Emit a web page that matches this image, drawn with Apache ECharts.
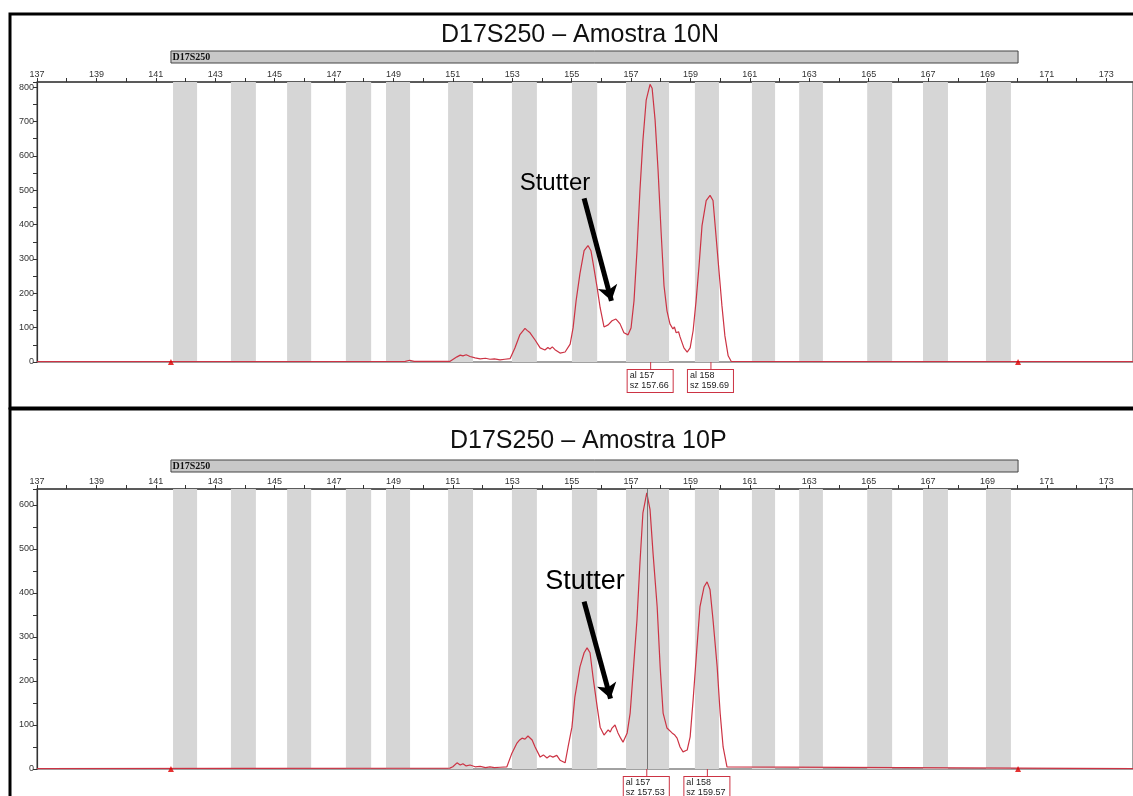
<!DOCTYPE html>
<html>
<head>
<meta charset="utf-8">
<title>D17S250</title>
<script src="https://cdn.jsdelivr.net/npm/echarts@6/dist/echarts.min.js"></script>
<style>
	html, body { margin: 0; padding: 0; background: #fff; }
	#main { width: 1133px; height: 796px; }
</style>
</head>
<body>
<div id="main"></div>
<script>
	'use strict'
	/*----data----*/
	var locus = 'D17S250';
	var titles = ['D17S250 \u2013 Amostra 10N', 'D17S250 \u2013 Amostra 10P'];
	var sizeRange = [137, 173.9];
	var binRange = [141.51, 170.03];
	var bins = [
		[141.58, 142.39], [143.53, 144.37], [145.42, 146.23], [147.40, 148.25], [148.75, 149.56],
		[150.84, 151.68], [152.99, 153.83], [155.01, 155.86], [156.83, 158.28], [159.15, 159.96],
		[161.07, 161.85], [162.66, 163.46], [164.95, 165.79], [166.83, 167.67], [168.95, 169.79]
	];
	var yMax = [815, 636];
	var trace10N = [
		[137, 1], [149.4, 2], [149.55, 5], [149.7, 2], [150.91, 2], [150.97, 6], [151.14, 15], [151.25, 20],
		[151.34, 18], [151.45, 21], [151.58, 16], [151.75, 12], [151.92, 9], [152.1, 11], [152.25, 8],
		[152.4, 9], [152.59, 6], [152.75, 8], [152.93, 10], [153.09, 41], [153.26, 80], [153.43, 98],
		[153.5, 92], [153.6, 85], [153.77, 64], [153.94, 41], [154.1, 35], [154.2, 42], [154.27, 38],
		[154.35, 44], [154.44, 36], [154.61, 26], [154.78, 29], [154.95, 52], [155.05, 100], [155.15, 178],
		[155.28, 257], [155.42, 324], [155.55, 339], [155.65, 324], [155.75, 274], [155.86, 216],
		[155.96, 158], [156.09, 102], [156.23, 108], [156.36, 120], [156.49, 125], [156.56, 118],
		[156.63, 111], [156.76, 85], [156.9, 79], [157.0, 99], [157.1, 178], [157.2, 324], [157.3, 500],
		[157.4, 645], [157.51, 762], [157.64, 808], [157.71, 797], [157.81, 704], [157.91, 558],
		[158.01, 382], [158.11, 222], [158.21, 149], [158.31, 111], [158.41, 96], [158.46, 102],
		[158.52, 85], [158.6, 88], [158.65, 73], [158.78, 41], [158.89, 29], [158.99, 41], [159.09, 91],
		[159.19, 178], [159.29, 280], [159.39, 397], [159.53, 470], [159.66, 485], [159.76, 470],
		[159.86, 368], [159.96, 266], [160.06, 164], [160.16, 76], [160.27, 18], [160.37, 2], [173.9, 1]
	];
	var trace10P = [
		[137, 1], [150.9, 2], [151.0, 5], [151.14, 14], [151.25, 9], [151.34, 12], [151.45, 7], [151.58, 9],
		[151.75, 5], [151.92, 6], [152.1, 3], [152.25, 5], [152.4, 3], [152.59, 4], [152.82, 5],
		[152.99, 36], [153.16, 59], [153.25, 66], [153.33, 70], [153.43, 68], [153.53, 75], [153.67, 66],
		[153.77, 50], [153.94, 27], [154.05, 32], [154.17, 25], [154.27, 30], [154.37, 27], [154.5, 31],
		[154.61, 20], [154.78, 14], [154.88, 50], [155.01, 95], [155.11, 164], [155.28, 232], [155.42, 264],
		[155.52, 275], [155.62, 264], [155.72, 209], [155.86, 141], [155.96, 95], [156.09, 77], [156.23, 89],
		[156.3, 84], [156.36, 93], [156.46, 100], [156.56, 82], [156.65, 70], [156.73, 61], [156.87, 82],
		[156.97, 127], [157.07, 218], [157.2, 339], [157.3, 468], [157.4, 582], [157.53, 627], [157.64, 589],
		[157.74, 491], [157.88, 368], [157.98, 232], [158.08, 127], [158.21, 93], [158.38, 82], [158.46, 78],
		[158.55, 70], [158.65, 50], [158.75, 39], [158.89, 43], [158.99, 73], [159.09, 157], [159.22, 277],
		[159.32, 368], [159.46, 414], [159.56, 425], [159.66, 407], [159.76, 339], [159.9, 232], [160.0, 127],
		[160.1, 50], [160.23, 5], [160.27, 2], [173.9, 1]
	];
	var alleles10N = [['157', 157.66], ['158', 159.69]];
	var alleles10P = [['157', 157.53], ['158', 159.57]];
	// stutter note: text point, arrow start, arrow end
	var stutter10N = [[154.44, 520], [155.42, 476], [156.34, 178]];
	var stutter10P = [[155.45, 425], [155.42, 380], [156.31, 160]];
	var cursor10P = 157.53;

	var traceColor = '#cc3344';
	var font = 'Liberation Sans';

	function plotGrid(top, height) {
		return {
			left: 37, right: 0, top: top, height: height,
			show: true, borderColor: '#444', borderWidth: 1, backgroundColor: 'transparent'
		};
	}
	function sizeAxis(gridIndex, shown) {
		return {
			type: 'value', gridIndex: gridIndex, position: 'top',
			min: sizeRange[0], max: sizeRange[1], interval: 1,
			show: shown,
			splitLine: { show: false },
			axisLine: { onZero: false, lineStyle: { color: '#444', width: 1.5 } },
			axisTick: { length: 4, lineStyle: { color: '#333' } },
			axisLabel: {
				fontSize: 9, color: '#333', fontFamily: font, margin: 3, showMaxLabel: false,
				formatter: function(v) { return v % 2 === 1 ? v : ''; }
			}
		};
	}
	function rfuAxis(gridIndex, max) {
		return {
			type: 'value', gridIndex: gridIndex, min: 0, max: max, interval: 100,
			splitLine: { show: false },
			axisLine: { show: true, onZero: false, lineStyle: { color: '#333', width: 1.2 } },
			axisTick: { show: true, length: 4, lineStyle: { color: '#333' } },
			minorTick: { show: true, splitNumber: 2, length: 4, lineStyle: { color: '#333' } },
			axisLabel: { fontSize: 9, color: '#333', fontFamily: font, margin: 3, showMaxLabel: false }
		};
	}
	function flagAxis(gridIndex) {
		return { type: 'value', gridIndex: gridIndex, min: 0, max: 1, show: false };
	}

	function traceSeries(axisIndex, trace, alleles, stutter, cursor) {
		var points = [];
		alleles.forEach(function(a) {
			points.push({
				coord: [a[1], 0],
				symbol: 'rect', symbolSize: [1, 8], symbolOffset: [0, 4],
				itemStyle: { color: traceColor },
				label: {
					show: true, position: 'bottom', distance: 0, align: 'left', offset: [-23, 0],
					formatter: 'al ' + a[0] + '\nsz ' + a[1].toFixed(2),
					fontSize: 9, lineHeight: 10, color: '#222', fontFamily: font,
					backgroundColor: '#fff', borderColor: traceColor, borderWidth: 1, padding: [1, 4, 1, 2]
				}
			});
		});
		points.push({
			coord: stutter[0],
			symbol: 'circle', symbolSize: 1, itemStyle: { color: 'rgba(0,0,0,0)' },
			label: {
				show: true, position: 'inside', formatter: 'Stutter',
				fontSize: axisIndex === 0 ? 24 : 27, color: '#000', fontFamily: font
			}
		});
		var lines = [[
			{ coord: stutter[1], symbol: 'none', lineStyle: { color: '#000', width: 5, type: 'solid' } },
			{ coord: stutter[2], symbol: 'arrow', symbolSize: 15 }
		]];
		if (cursor != null) {
			lines.push([
				{ coord: [cursor, 0], symbol: 'none', lineStyle: { color: '#777', width: 1, type: 'solid' } },
				{ coord: [cursor, yMax[1]], symbol: 'none' }
			]);
		}
		return {
			type: 'line', xAxisIndex: axisIndex, yAxisIndex: axisIndex,
			data: trace, showSymbol: false, symbol: 'none', smooth: false,
			lineStyle: { color: traceColor, width: 1.2 },
			markArea: {
				silent: true,
				itemStyle: { color: '#d6d6d6' },
				data: bins.map(function(b) { return [{ xAxis: b[0] }, { xAxis: b[1] }]; })
			},
			markPoint: { silent: true, data: points },
			markLine: { silent: true, symbol: ['none', 'none'], label: { show: false }, data: lines },
			z: 3
		};
	}
	function flagSeries(axisIndex) {
		return {
			type: 'custom', xAxisIndex: axisIndex, yAxisIndex: axisIndex,
			data: [binRange],
			renderItem: function(params, api) {
				var p0 = api.coord([api.value(0), 1]);
				var p1 = api.coord([api.value(1), 0]);
				return {
					type: 'rect',
					shape: { x: p0[0], y: p0[1], width: p1[0] - p0[0], height: p1[1] - p0[1] },
					style: { fill: '#c8c8c8', stroke: '#444', lineWidth: 1 },
					textContent: { style: { text: locus, font: 'bold 10px "Liberation Serif"', fill: '#111' } },
					textConfig: { position: 'insideLeft', distance: 2 }
				};
			}
		};
	}
	function binMarkers(axisIndex) {
		return {
			type: 'scatter', xAxisIndex: axisIndex, yAxisIndex: axisIndex,
			data: binRange.map(function(v) { return [v, 0]; }),
			symbol: 'triangle', symbolSize: 6, itemStyle: { color: '#e00000' }, z: 4
		};
	}

	var chart = echarts.init(document.getElementById('main'));
	var option = {
		animation: false,
		title: [{
			text: titles[0], left: 436, top: 18,
			textStyle: { fontSize: 25, fontWeight: 'normal', color: '#111', fontFamily: font }
		}, {
			text: titles[1], left: 445, top: 424,
			textStyle: { fontSize: 25, fontWeight: 'normal', color: '#111', fontFamily: font }
		}],
		grid: [plotGrid(82, 280), plotGrid(51, 12), plotGrid(489, 280), plotGrid(460, 12)],
		xAxis: [sizeAxis(0, true), sizeAxis(1, false), sizeAxis(2, true), sizeAxis(3, false)],
		yAxis: [rfuAxis(0, yMax[0]), flagAxis(1), rfuAxis(2, yMax[1]), flagAxis(3)],
		series: [
			traceSeries(0, trace10N, alleles10N, stutter10N, null),
			flagSeries(1),
			binMarkers(0),
			traceSeries(2, trace10P, alleles10P, stutter10P, cursor10P),
			flagSeries(3),
			binMarkers(2)
		],
		graphic: [{
			type: 'rect', shape: { x: 10, y: 14, width: 1140, height: 394 },
			style: { fill: 'none', stroke: '#000', lineWidth: 3 }, z: 10
		}, {
			type: 'rect', shape: { x: 10, y: 409, width: 1140, height: 400 },
			style: { fill: 'none', stroke: '#000', lineWidth: 3 }, z: 10
		}]
	};
	// flag grids have no border
	option.grid[1].show = false;
	option.grid[3].show = false;
	chart.setOption(option);
</script>
</body>
</html>
